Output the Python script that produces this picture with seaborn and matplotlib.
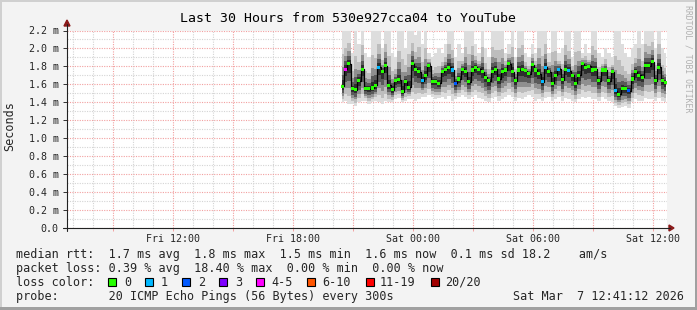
import numpy as np
import pandas as pd
import matplotlib
matplotlib.use("Agg")
import matplotlib.pyplot as plt
import seaborn as sns
from matplotlib.patches import Rectangle, Polygon
from matplotlib.lines import Line2D

# ---------------- data ----------------
title = "Last 30 Hours from 530e927cca04 to YouTube"
y_label = "Seconds"
watermark = "RRDTOOL / TOBI OETIKER"

# x axis in hours since Fri 00:00
x_start_hour = 6.687      # Fri 06:41:12 (30 hours before end)
x_end_hour = 36.687       # Sat 12:41:12
x_tick_hours = [12, 18, 24, 30, 36]
x_tick_labels = ["Fri 12:00", "Fri 18:00", "Sat 00:00", "Sat 06:00", "Sat 12:00"]
y_ticks = [0.0, 0.2, 0.4, 0.6, 0.8, 1.0, 1.2, 1.4, 1.6, 1.8, 2.0, 2.2]
y_tick_labels = ["0.0", "0.2 m", "0.4 m", "0.6 m", "0.8 m", "1.0 m", "1.2 m",
                 "1.4 m", "1.6 m", "1.8 m", "2.0 m", "2.2 m"]

data_start_hour = 20.45   # Fri 20:27
step_minutes = 10

median_ms = [1.58, 1.77, 1.83, 1.55, 1.54, 1.64, 1.77, 1.55, 1.55, 1.56,
             1.59, 1.79, 1.74, 1.81, 1.59, 1.54, 1.64, 1.65, 1.52, 1.63,
             1.57, 1.83, 1.77, 1.74, 1.64, 1.70, 1.81, 1.63, 1.63, 1.61,
             1.74, 1.77, 1.79, 1.76, 1.61, 1.66, 1.77, 1.74, 1.63, 1.76,
             1.79, 1.77, 1.74, 1.68, 1.64, 1.74, 1.77, 1.66, 1.74, 1.76,
             1.83, 1.74, 1.64, 1.76, 1.77, 1.75, 1.72, 1.82, 1.76, 1.72,
             1.63, 1.79, 1.74, 1.61, 1.70, 1.77, 1.65, 1.77, 1.75, 1.70,
             1.61, 1.70, 1.83, 1.79, 1.80, 1.76, 1.77, 1.64, 1.76, 1.76,
             1.64, 1.74, 1.53, 1.49, 1.55, 1.55, 1.53, 1.66, 1.74, 1.70,
             1.68, 1.81, 1.81, 1.85, 1.64, 1.79, 1.64, 1.62]

max_ms = [2.30, 2.25, 2.30, 1.95, 2.30, 2.05, 2.30, 1.95, 1.90, 2.30,
          2.20, 2.30, 2.00, 2.30, 2.25, 1.95, 1.90, 2.30, 2.25, 2.00,
          2.30, 2.30, 2.15, 2.30, 2.05, 2.30, 1.95, 1.90, 1.95, 2.00,
          1.95, 2.05, 2.30, 2.20, 1.90, 2.05, 1.95, 2.30, 2.25, 2.30,
          2.05, 1.95, 2.30, 2.00, 1.90, 2.30, 2.20, 2.30, 2.25, 1.95,
          2.05, 2.30, 1.90, 2.25, 2.30, 1.95, 1.90, 2.05, 1.95, 2.30,
          2.20, 2.30, 1.95, 2.30, 2.25, 1.95, 2.00, 2.30, 2.20, 1.90,
          2.30, 2.25, 1.95, 2.05, 1.95, 2.30, 2.20, 1.95, 1.90, 2.00,
          1.95, 1.90, 2.30, 2.25, 2.05, 1.95, 1.90, 2.00, 2.05, 2.30,
          2.05, 2.30, 2.25, 2.30, 2.00, 2.30, 2.00, 1.95]

min_ms = [1.40, 1.42, 1.38, 1.38, 1.36, 1.40, 1.42, 1.42, 1.38, 1.40,
          1.42, 1.40, 1.38, 1.42, 1.40, 1.40, 1.44, 1.45, 1.40, 1.42,
          1.44, 1.44, 1.42, 1.44, 1.46, 1.46, 1.48, 1.46, 1.44, 1.45,
          1.46, 1.44, 1.47, 1.42, 1.44, 1.46, 1.48, 1.46, 1.44, 1.46,
          1.48, 1.45, 1.44, 1.42, 1.40, 1.45, 1.46, 1.42, 1.44, 1.46,
          1.48, 1.46, 1.42, 1.45, 1.44, 1.46, 1.48, 1.46, 1.42, 1.44,
          1.42, 1.45, 1.46, 1.42, 1.44, 1.46, 1.42, 1.45, 1.44, 1.42,
          1.40, 1.44, 1.46, 1.45, 1.46, 1.44, 1.44, 1.42, 1.46, 1.44,
          1.42, 1.40, 1.36, 1.34, 1.35, 1.36, 1.34, 1.40, 1.44, 1.42,
          1.42, 1.45, 1.44, 1.44, 1.42, 1.45, 1.42, 1.40]

# loss category index per step (0 -> "0", 1 -> "1", 2 -> "2", 4 -> "4-5")
loss_cat = [0, 4, 0, 0, 0, 0, 0, 0, 0, 0,
            0, 1, 0, 0, 0, 0, 0, 0, 0, 0,
            0, 0, 0, 0, 1, 0, 0, 0, 0, 0,
            0, 0, 0, 1, 2, 0, 0, 0, 0, 0,
            0, 0, 0, 0, 0, 0, 0, 0, 0, 0,
            0, 0, 0, 0, 0, 0, 0, 0, 0, 0,
            1, 1, 0, 0, 0, 1, 0, 0, 1, 0,
            0, 0, 0, 0, 0, 0, 0, 0, 0, 0,
            0, 0, 1, 0, 0, 0, 2, 0, 0, 0,
            0, 0, 0, 0, 0, 0, 0, 0]

loss_labels = ["0", "1", "2", "3", "4-5", "6-10", "11-19", "20/20"]
loss_colors = ["#26ff00", "#00b8ff", "#0059ff", "#7e00ff", "#ff00ff",
               "#ff5500", "#ff0000", "#a10000"]

stats_rtt = "median rtt:  1.7 ms avg  1.8 ms max  1.5 ms min  1.6 ms now  0.1 ms sd 18.2    am/s"
stats_loss = "packet loss: 0.39 % avg  18.40 % max  0.00 % min  0.00 % now"
loss_color_title = "loss color:"
probe_text = "probe:       20 ICMP Echo Pings (56 Bytes) every 300s"
date_text = "Sat Mar  7 12:41:12 2026"

# ---------------- layout helpers ----------------
W, H = 697, 310
sns.set_style("white")
plt.rcParams["font.family"] = ["DejaVu Sans Mono", "DejaVu Sans"]


def fx(x):
    return x / W


def fy(y):
    return 1 - y / H


fig = plt.figure(figsize=(W / 100, H / 100), dpi=100, facecolor="#f3f3f3")

L, R, T, B = 67, 667, 30.5, 228
ax = fig.add_axes([fx(L), fy(B), (R - L) / W, (B - T) / H])
ax.set_facecolor("white")

n = len(median_ms)
times = data_start_hour + np.arange(n) * step_minutes / 60.0
med = np.array(median_ms)
mx = np.array(max_ms)
mn = np.array(min_ms)

df = pd.DataFrame({"t": times, "median": med,
                   "loss": [loss_labels[i] for i in loss_cat]})

# smoke layers (outer light -> inner dark)
layers = [(1.0, 1.0, "#dddddd"), (0.8, 0.5, "#bdbdbd"), (0.6, 0.3, "#8f8f8f"),
          (0.42, 0.18, "#5a5a5a"), (0.22, 0.09, "#2e2e2e")]
for flo, fhi, col in layers:
    lo = med - (med - mn) * flo
    hi = med + (mx - med) * fhi
    ax.fill_between(times, lo, hi, step="mid", color=col, lw=0, zorder=2)

sns.lineplot(data=df, x="t", y="median", color="black", lw=0.9,
             drawstyle="steps-mid", estimator=None, ax=ax, zorder=3)
sns.scatterplot(data=df, x="t", y="median", hue="loss",
                palette=dict(zip(loss_labels, loss_colors)), marker="s", s=5,
                linewidth=0, legend=False, ax=ax, zorder=4)

ax.set_xlim(x_start_hour, x_end_hour)
ax.set_ylim(0, 2.2)
ax.set_xlabel("")
ax.set_ylabel("")

major_x = np.arange(9, 37, 3)
ax.set_xticks(major_x)
ax.set_xticklabels([x_tick_labels[x_tick_hours.index(h)] if h in x_tick_hours else ""
                    for h in major_x])
ax.set_xticks(np.arange(7, 37, 1), minor=True)
ax.set_yticks(y_ticks)
ax.set_yticklabels(y_tick_labels)
ax.set_yticks(np.arange(0.1, 2.2, 0.2), minor=True)

ax.grid(which="minor", color="#d4d4d4", linestyle=(0, (1, 1.2)), lw=0.8)
ax.grid(which="major", color="#f2a0a0", linestyle=(0, (1, 1.2)), lw=0.8)
ax.set_axisbelow(True)
for s in ax.spines.values():
    s.set_visible(False)

ax.tick_params(axis="x", which="major", length=2.5, width=0.7, color="#f2a0a0",
               labelsize=7.2, pad=1.5, direction="out", bottom=True)
ax.tick_params(axis="y", which="major", length=3, width=0.7, color="#333333",
               labelsize=7.2, pad=3, direction="out", left=True)
ax.tick_params(which="minor", length=0)

# axis lines with arrows
fig.add_artist(Line2D([fx(67), fx(67)], [fy(231), fy(24)], color="#222222", lw=0.8))
fig.add_artist(Line2D([fx(63), fx(670)], [fy(228), fy(228)], color="#222222", lw=0.8))
fig.add_artist(Polygon([(fx(64), fy(26)), (fx(70), fy(26)), (fx(67), fy(20))],
                       closed=True, color="#8b1a1a", transform=fig.transFigure))
fig.add_artist(Polygon([(fx(669), fy(225)), (fx(669), fy(231)), (fx(674), fy(228))],
                       closed=True, color="#8b1a1a", transform=fig.transFigure))

# texts
fig.text(fx(347.5), fy(19), title, ha="center", va="center", fontsize=9.5, color="black")
fig.text(fx(10), fy(126), y_label, ha="center", va="center", rotation=90, fontsize=8.5)
fig.text(fx(688), fy(59), watermark, ha="center", va="center", rotation=270,
         fontsize=5.9, color="#b0b0b0")

fs = 8.45
fig.text(fx(16), fy(254.3), stats_rtt, ha="left", va="center", fontsize=fs)
fig.text(fx(16), fy(268.3), stats_loss, ha="left", va="center", fontsize=fs)
fig.text(fx(16), fy(282.3), loss_color_title, ha="left", va="center", fontsize=fs)
fig.text(fx(16), fy(296.3), probe_text, ha="left", va="center", fontsize=fs)
fig.text(fx(513.3), fy(296.3), date_text, ha="left", va="center", fontsize=fs)

box_x = [108.3, 145.3, 182.3, 219.0, 256.0, 306.7, 365.7, 430.7]
lab_x = [124.0, 161.0, 197.7, 234.7, 271.7, 322.0, 380.0, 445.0]
for bx, lx, lab, col in zip(box_x, lab_x, loss_labels, loss_colors):
    fig.add_artist(Rectangle((fx(bx), fy(286.3)), 8 / W, 8 / H, transform=fig.transFigure,
                             facecolor=col, edgecolor="black", lw=0.8))
    fig.text(fx(lx), fy(282.3), lab, ha="left", va="center", fontsize=fs)

# frame
fig.add_artist(Rectangle((0, fy(2)), 1, 2 / H, transform=fig.transFigure,
                         facecolor="#d0d0d0", lw=0))
fig.add_artist(Rectangle((0, 0), 2 / W, 1, transform=fig.transFigure,
                         facecolor="#d0d0d0", lw=0))
fig.add_artist(Rectangle((fx(695), 0), 2 / W, 1, transform=fig.transFigure,
                         facecolor="#a0a0a0", lw=0))
fig.add_artist(Rectangle((0, 0), 1, 3 / H, transform=fig.transFigure,
                         facecolor="#a0a0a0", lw=0))

fig.savefig("out.png", dpi=100, facecolor=fig.get_facecolor())
